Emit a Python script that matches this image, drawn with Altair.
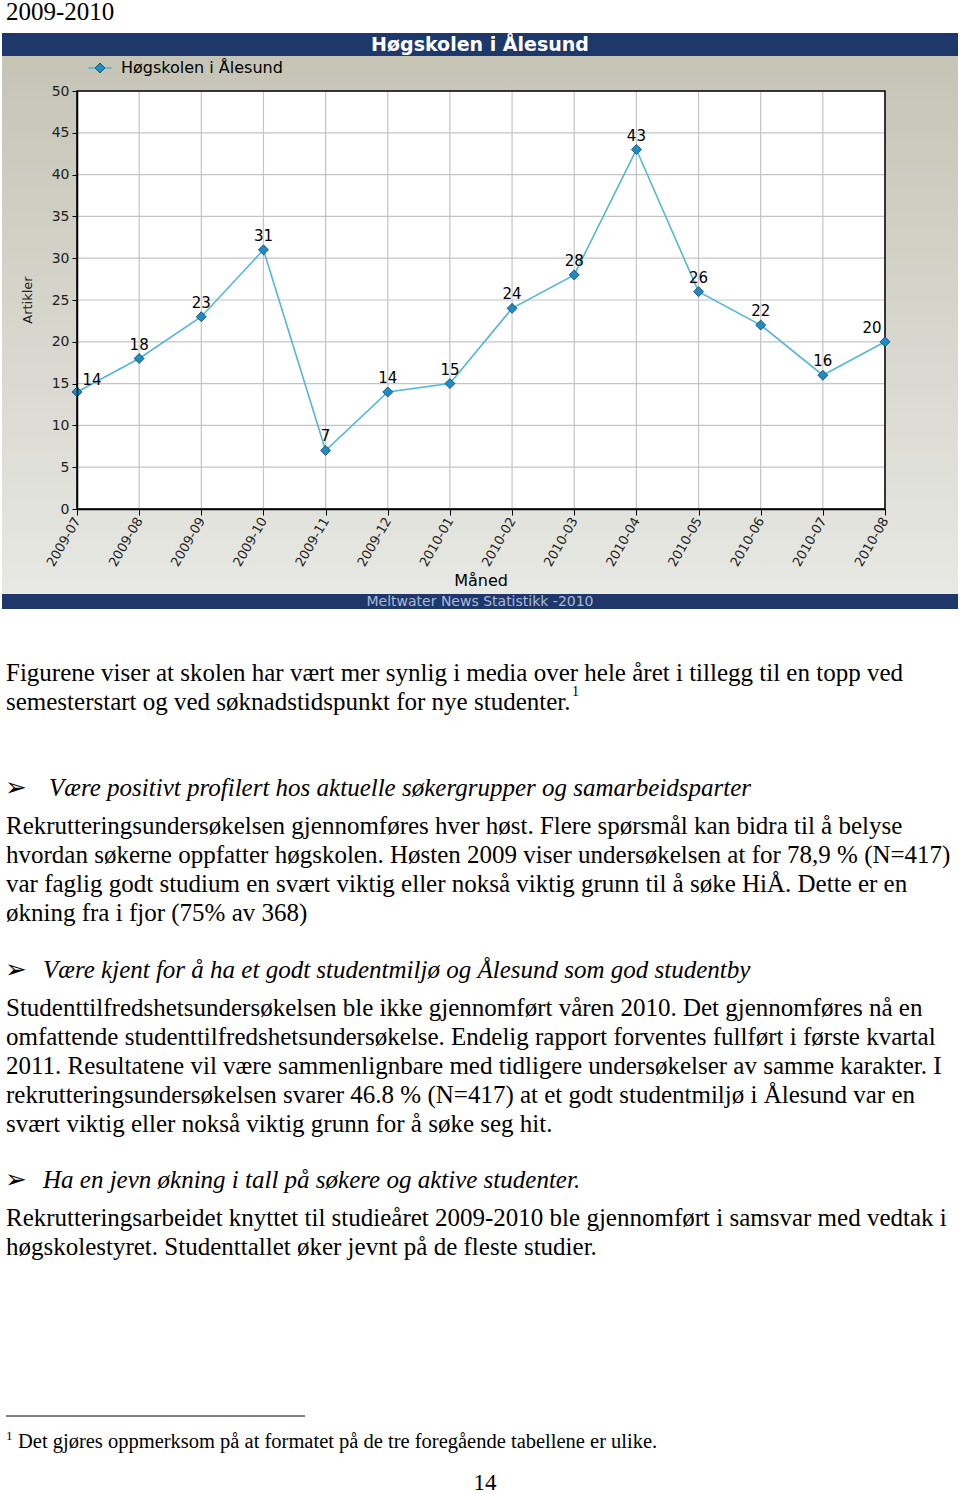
import altair as alt
import pandas as pd

# ---------------- data ----------------
months = ["2009-07", "2009-08", "2009-09", "2009-10", "2009-11", "2009-12", "2010-01",
          "2010-02", "2010-03", "2010-04", "2010-05", "2010-06", "2010-07", "2010-08"]
articles = [14, 18, 23, 31, 7, 14, 15, 24, 28, 43, 26, 22, 16, 20]
y_ticks = [0, 5, 10, 15, 20, 25, 30, 35, 40, 45, 50]

chart_title = "Høgskolen i Ålesund"
series_name = "Høgskolen i Ålesund"
x_title = "Måned"
y_title = "Artikler"
footer = "Meltwater News Statistikk -2010"

heading = "2009-2010"
para1 = ("Figurene viser at skolen har vært mer synlig i media over hele året i tillegg til en topp ved\n"
         "semesterstart og ved søknadstidspunkt for nye studenter.")
bullet1 = "Være positivt profilert hos aktuelle søkergrupper og samarbeidsparter"
para2 = ("Rekrutteringsundersøkelsen gjennomføres hver høst. Flere spørsmål kan bidra til å belyse\n"
         "hvordan søkerne oppfatter høgskolen. Høsten 2009 viser undersøkelsen at for 78,9 % (N=417)\n"
         "var faglig godt studium en svært viktig eller nokså viktig grunn til å søke HiÅ. Dette er en\n"
         "økning fra i fjor (75% av 368)")
bullet2 = "Være kjent for å ha et godt studentmiljø og Ålesund som god studentby"
para3 = ("Studenttilfredshetsundersøkelsen ble ikke gjennomført våren 2010. Det gjennomføres nå en\n"
         "omfattende studenttilfredshetsundersøkelse. Endelig rapport forventes fullført i første kvartal\n"
         "2011. Resultatene vil være sammenlignbare med tidligere undersøkelser av samme karakter. I\n"
         "rekrutteringsundersøkelsen svarer 46.8 % (N=417) at et godt studentmiljø i Ålesund var en\n"
         "svært viktig eller nokså viktig grunn for å søke seg hit.")
bullet3 = "Ha en jevn økning i tall på søkere og aktive studenter."
para4 = ("Rekrutteringsarbeidet knyttet til studieåret 2009-2010 ble gjennomført i samsvar med vedtak i\n"
         "høgskolestyret. Studenttallet øker jevnt på de fleste studier.")
footnote = "Det gjøres oppmerksom på at formatet på de tre foregående tabellene er ulike."
page_no = "14"

df = pd.DataFrame({"month": months, "value": articles})
grid_y = pd.DataFrame({"value": y_ticks})
one = pd.DataFrame({"a": [0]})

# ---------------- layout ----------------
W, H = 808, 418          # plot area
L, T = 77, 91            # page offset of plot area
PX = lambda x: x - L     # page -> local
PY = lambda y: y - T

NAVY = "#1e386a"
LINE = "#55b6d6"
SERIF = "Liberation Serif"
SANS = "DejaVu Sans"

X = alt.X("month:O", sort=months,
          scale=alt.Scale(type="point", padding=0),
          axis=alt.Axis(title=None, grid=False, labelAngle=300, labelAlign="right",
                        labelBaseline="middle", labelFont=SANS, labelFontSize=13,
                        labelColor="#222", labelPadding=3, tickSize=6, tickColor="black",
                        domainColor="black", domainWidth=1.5, zindex=1))
Y = alt.Y("value:Q", scale=alt.Scale(domain=[0, 50], nice=False, zero=True),
          axis=alt.Axis(title=None, grid=False, values=y_ticks, labelFont=SANS,
                        labelFontSize=14, labelColor="#222", labelPadding=3, tickSize=5,
                        tickColor="black", domainColor="black", domainWidth=1.5, zindex=1))

def rect(x1, x2, y1, y2, **kw):
    return alt.Chart(one).mark_rect(**kw).encode(
        x=alt.value(PX(x1)), x2=alt.value(PX(x2)), y=alt.value(PY(y1)), y2=alt.value(PY(y2)))

def text(s, x, y, **kw):
    return alt.Chart(one).mark_text(lineBreak="\n", **kw).encode(
        x=alt.value(PX(x)), y=alt.value(PY(y)), text=alt.value(s))

panel = rect(2, 958, 56, 594, color=alt.Gradient(
    gradient="linear", x1=0, x2=0, y1=0, y2=1,
    stops=[alt.GradientStop(color="#c5c4b5", offset=0),
           alt.GradientStop(color="#d6d6cd", offset=0.5),
           alt.GradientStop(color="#e8e8e4", offset=1)]))
plot_bg = rect(L, L + W, T, T + H, color="white")
top_bar = rect(2, 958, 33, 56, color=NAVY)
bot_bar = rect(2, 958, 594, 609, color=NAVY)

vgrid = alt.Chart(df).mark_rule(color="#c4c4c4", strokeWidth=1.2).encode(
    x=X, y=alt.value(0), y2=alt.value(H))
hgrid = alt.Chart(grid_y).mark_rule(color="#c4c4c4", strokeWidth=1.2).encode(
    y=Y, x=alt.value(0), x2=alt.value(W))
frame = rect(L, L + W, T, T + H, fillOpacity=0, stroke="black", strokeWidth=1.5)

line = alt.Chart(df).mark_line(color=LINE, strokeWidth=1.6).encode(x=X, y=Y)
pts = alt.Chart(df).mark_point(shape="diamond", size=100, filled=True, fill="#1b8cc4",
                               stroke="#14405e", strokeWidth=0.8, opacity=1).encode(x=X, y=Y)
lab_kw = dict(font=SANS, fontSize=15, color="black", baseline="bottom")
labels_mid = alt.Chart(df).mark_text(dy=-6, **lab_kw).encode(x=X, y=Y, text="value:Q").transform_filter(
    alt.FieldOneOfPredicate(field="month", oneOf=months[1:-1]))
labels_first = alt.Chart(df).mark_text(dy=-4, dx=15, **lab_kw).encode(x=X, y=Y, text="value:Q").transform_filter(
    alt.FieldEqualPredicate(field="month", equal=months[0]))
labels_last = alt.Chart(df).mark_text(dy=-6, dx=-13, **lab_kw).encode(x=X, y=Y, text="value:Q").transform_filter(
    alt.FieldEqualPredicate(field="month", equal=months[-1]))

title_t = text(chart_title, 480, 45, font=SANS, fontSize=19, fontWeight="bold", color="white",
               align="center", baseline="middle")
leg_line = alt.Chart(one).mark_rule(color=LINE, strokeWidth=1.5).encode(
    x=alt.value(PX(88)), x2=alt.value(PX(112)), y=alt.value(PY(68)))
leg_pt = alt.Chart(one).mark_point(shape="diamond", size=100, filled=True, fill="#1b8cc4",
                                   stroke="#14405e", strokeWidth=0.8, opacity=1).encode(
    x=alt.value(PX(100)), y=alt.value(PY(68)))
leg_t = text(series_name, 121, 68, font=SANS, fontSize=16, color="black", align="left", baseline="middle")
ytitle_t = text(y_title, 28, 300, font=SANS, fontSize=13, color="#222", angle=270,
                align="center", baseline="middle")
xtitle_t = text(x_title, 481, 581, font=SANS, fontSize=16, color="black", align="center", baseline="middle")
footer_t = text(footer, 480, 602, font=SANS, fontSize=14, color="#a9b9d9", align="center", baseline="middle")

body_kw = dict(font=SERIF, fontSize=25, color="black", align="left", baseline="alphabetic", lineHeight=29)
bullet_kw = dict(font=SANS, fontSize=26, color="black", align="left", baseline="alphabetic")
doc = [
    text(heading, 6, 20, **body_kw),
    text(para1, 6, 681, **body_kw),
    text("1", 572, 696, font=SERIF, fontSize=14, color="black", align="left", baseline="alphabetic"),
    text("➢", 5, 796, **bullet_kw),
    text(bullet1, 49, 796, fontStyle="italic", **body_kw),
    text(para2, 6, 834, **body_kw),
    text("➢", 5, 978, **bullet_kw),
    text(bullet2, 43, 978, fontStyle="italic", **body_kw),
    text(para3, 6, 1016, **body_kw),
    text("➢", 5, 1188, **bullet_kw),
    text(bullet3, 43, 1188, fontStyle="italic", **body_kw),
    text(para4, 6, 1226, **body_kw),
    alt.Chart(one).mark_rule(color="black", strokeWidth=1).encode(
        x=alt.value(PX(6)), x2=alt.value(PX(305)), y=alt.value(PY(1416))),
    text("1", 6, 1440, font=SERIF, fontSize=13, color="black", align="left", baseline="alphabetic"),
    text(footnote, 18, 1448, font=SERIF, fontSize=20.5, color="black", align="left", baseline="alphabetic"),
    text(page_no, 485, 1490, font=SERIF, fontSize=23, color="black", align="center", baseline="alphabetic"),
]

chart = alt.layer(
    panel, top_bar, bot_bar, plot_bg, vgrid, hgrid, frame, line, pts,
    labels_mid, labels_first, labels_last, title_t, leg_line, leg_pt, leg_t,
    ytitle_t, xtitle_t, footer_t, *doc
).properties(
    width=W, height=H,
    autosize=alt.AutoSizeParams(type="none"),
    padding={"left": L, "top": T, "right": 960 - L - W, "bottom": 1494 - T - H},
    background="white",
).configure_view(stroke=None)

chart.save("out.html", embed_options={"renderer": "svg", "actions": False})
